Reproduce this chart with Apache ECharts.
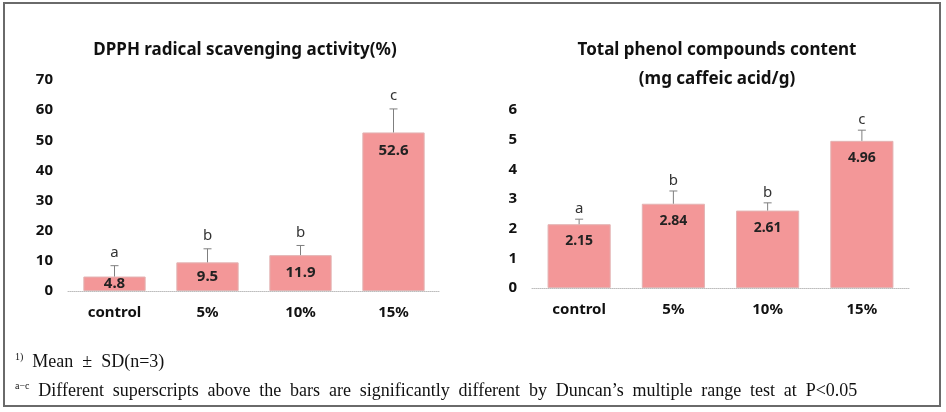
<!DOCTYPE html>
<html><head><meta charset="utf-8">
<script src="https://cdn.jsdelivr.net/npm/echarts@6/dist/echarts.min.js"></script>
<style>
html,body{margin:0;padding:0;background:#fff;}
#wrap{position:relative;width:946px;height:412px;overflow:hidden;}
#chart{position:absolute;left:0;top:0;width:946px;height:412px;}
.fn{position:absolute;font-family:"Liberation Serif","DejaVu Serif",serif;font-size:18px;color:#111;white-space:nowrap;line-height:20px;}
.fn sup{font-size:10px;vertical-align:7px;line-height:0;}
</style></head><body>
<div id="wrap"><div id="chart"></div>
<div class="fn" style="left:15px;top:351px;"><sup>1)</sup>&nbsp; Mean&nbsp; ±&nbsp; SD(n=3)</div>
<div class="fn" style="left:15px;top:380px;word-spacing:4.3px;"><sup>a−c</sup> Different superscripts above the bars are significantly different by Duncan’s multiple range test at P&lt;0.05</div>
</div>
<script>
// ---- data ----
var categories = ['control', '5%', '10%', '15%'];
var dpphMean = [4.8, 9.5, 11.9, 52.6];
var dpphSD = [3.6, 4.5, 3.2, 7.8];
var dpphLetters = ['a', 'b', 'b', 'c'];
var phenolMean = [2.15, 2.84, 2.61, 4.96];
var phenolSD = [0.17, 0.43, 0.26, 0.36];
var phenolLetters = ['a', 'b', 'b', 'c'];
var dpphTicks = {min: 0, max: 70, interval: 10};
var phenolTicks = {min: 0, max: 6, interval: 1};

var FONT = '"Noto Sans", "Open Sans", sans-serif';
var BAR = '#F39798';

function barData(vals, max, dist) {
  return vals.map(function (v) {
    var small = v / max < 0.2;
    return {
      value: v,
      label: small ? {position: 'inside'} : {position: 'insideTop', distance: dist}
    };
  });
}
function errData(mean, sd) {
  return mean.map(function (m, i) { return [i, m, sd[i]]; });
}
function errRender(letters, offset) {
  return function (params, api) {
    var x = api.value(0), m = api.value(1), sd = api.value(2);
    var b = api.coord([x, m]);
    var t = api.coord([x, m + sd]);
    var cap = 4;
    return {
      type: 'group',
      children: [
        {type: 'line', shape: {x1: b[0], y1: b[1], x2: t[0], y2: t[1]}, style: {stroke: '#7f7f7f', lineWidth: 1}},
        {type: 'line', shape: {x1: t[0] - cap, y1: t[1], x2: t[0] + cap, y2: t[1]}, style: {stroke: '#7f7f7f', lineWidth: 1}},
        {type: 'text', x: t[0], y: t[1] - offset, style: {text: letters[params.dataIndex], align: 'center', verticalAlign: 'middle', font: '15px ' + FONT, fill: '#333'}}
      ]
    };
  };
}

var chart = echarts.init(document.getElementById('chart'), null, {renderer: 'canvas'});

function xAxis(gi) {
  return {
    type: 'category', gridIndex: gi, data: categories,
    axisTick: {show: false},
    axisLine: {show: true, lineStyle: {color: '#bdbdbd', type: 'dotted', width: 1}},
    axisLabel: {color: '#111', fontFamily: FONT, fontWeight: 'bold', fontSize: 15, margin: 14}
  };
}
function yAxis(gi, t) {
  return {
    type: 'value', gridIndex: gi, min: t.min, max: t.max, interval: t.interval,
    splitLine: {show: false}, axisLine: {show: false}, axisTick: {show: false},
    axisLabel: {color: '#111', fontFamily: FONT, fontWeight: 'bold', fontSize: 15, margin: 15}
  };
}

chart.setOption({
  animation: false,
  backgroundColor: '#fff',
  title: [
    {text: 'DPPH radical scavenging activity(%)', left: 240, top: 37, textAlign: 'center',
      textStyle: {fontFamily: FONT, fontWeight: 'bold', fontSize: 17, color: '#111'}},
    {text: 'Total phenol compounds content\n(mg caffeic acid/g)', left: 712, top: 31, textAlign: 'center',
      textStyle: {fontFamily: FONT, fontWeight: 'bold', fontSize: 17, color: '#111', lineHeight: 29}}
  ],
  grid: [
    {left: 68, top: 80, width: 372, height: 211},
    {left: 532, top: 110, width: 377, height: 178}
  ],
  xAxis: [xAxis(0), xAxis(1)],
  yAxis: [yAxis(0, dpphTicks), yAxis(1, phenolTicks)],
  graphic: [
    {type: 'rect', shape: {x: 4, y: 3, width: 936, height: 403}, style: {fill: 'none', stroke: '#6a6a6a', lineWidth: 2}, silent: true}
  ],
  series: [
    {type: 'bar', xAxisIndex: 0, yAxisIndex: 0, data: barData(dpphMean, dpphTicks.max, 11), barCategoryGap: '33%',
      itemStyle: {color: BAR, borderColor: '#e3b3b3', borderWidth: 1},
      label: {show: true, fontFamily: FONT, fontWeight: 'bold', fontSize: 15, color: '#222'}},
    {type: 'custom', xAxisIndex: 0, yAxisIndex: 0, z: 5, data: errData(dpphMean, dpphSD), renderItem: errRender(dpphLetters, 13)},
    {type: 'bar', xAxisIndex: 1, yAxisIndex: 1, data: barData(phenolMean, phenolTicks.max, 10), barCategoryGap: '33%',
      itemStyle: {color: BAR, borderColor: '#e3b3b3', borderWidth: 1},
      label: {show: true, fontFamily: FONT, fontWeight: 'bold', fontSize: 14, color: '#222'}},
    {type: 'custom', xAxisIndex: 1, yAxisIndex: 1, z: 5, data: errData(phenolMean, phenolSD), renderItem: errRender(phenolLetters, 10)}
  ]
});
</script>
</body></html>
